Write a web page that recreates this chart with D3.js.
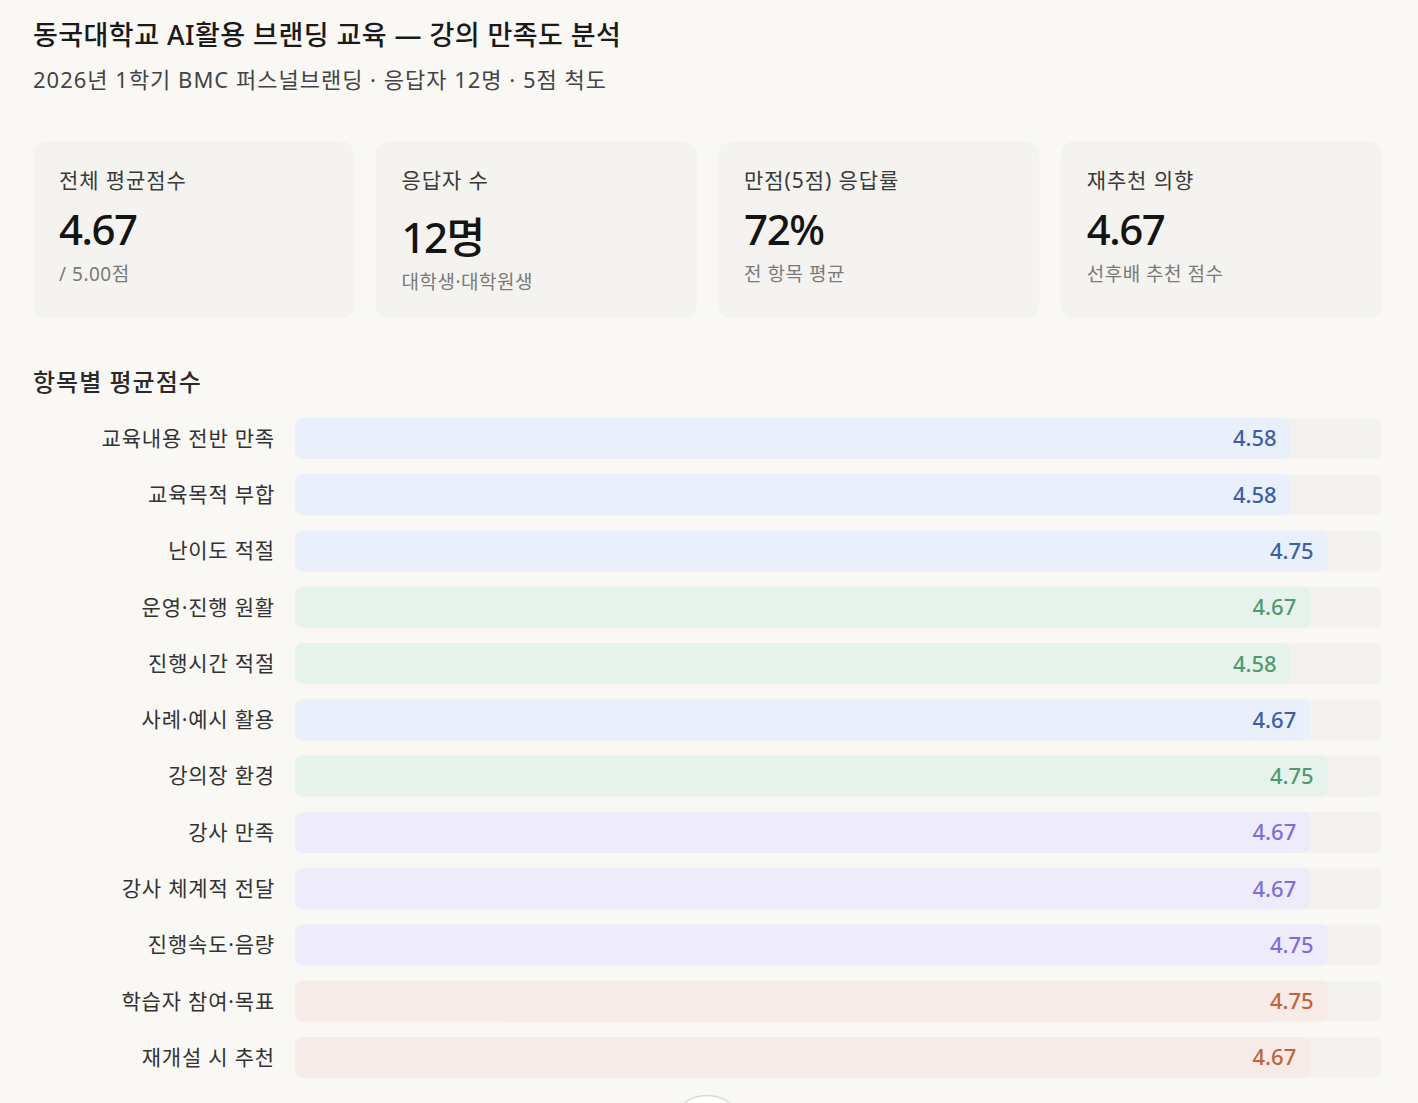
<!DOCTYPE html>
<html>
<head>
<meta charset="utf-8">
<script src="https://cdn.jsdelivr.net/npm/d3@7"></script>
<style>
  html, body { margin: 0; padding: 0; background: #f9f8f5; }
  svg { display: block; }
  text { font-family: "Noto Sans", "Noto Sans CJK KR", sans-serif; }
</style>
</head>
<body>
<svg id="chart" width="1418" height="1103"></svg>
<script>
const titleText = "동국대학교 AI활용 브랜딩 교육 — 강의 만족도 분석";
const subtitleText = "2026년 1학기 BMC 퍼스널브랜딩 · 응답자 12명 · 5점 척도";
const sectionText = "항목별 평균점수";

const cardLabels = ["전체 평균점수", "응답자 수", "만점(5점) 응답률", "재추천 의향"];
const cardValues = ["4.67", "12명", "72%", "4.67"];
const cardNotes = ["/ 5.00점", "대학생·대학원생", "전 항목 평균", "선후배 추천 점수"];

const categories = ["교육내용 전반 만족", "교육목적 부합", "난이도 적절", "운영·진행 원활", "진행시간 적절",
  "사례·예시 활용", "강의장 환경", "강사 만족", "강사 체계적 전달", "진행속도·음량", "학습자 참여·목표", "재개설 시 추천"];
const values = [4.58, 4.58, 4.75, 4.67, 4.58, 4.67, 4.75, 4.67, 4.67, 4.75, 4.75, 4.67];
const groups = ["content", "content", "content", "ops", "ops", "content", "ops", "lecturer", "lecturer", "lecturer", "outcome", "outcome"];
const scaleMax = 5;

const groupFill = { content: "#e9f0fb", ops: "#e6f3ec", lecturer: "#eeecfb", outcome: "#f6ebe6" };
const groupText = { content: "#3d5fa6", ops: "#4f9a6f", lecturer: "#7c70d8", outcome: "#c4623b" };

const svg = d3.select("#chart");

svg.append("text").attr("x", 33).attr("y", 45)
  .attr("font-size", 27).attr("font-weight", 500).attr("letter-spacing", 0.45)
  .attr("fill", "#1a1a1a").text(titleText);
svg.append("text").attr("x", 33).attr("y", 88)
  .attr("font-size", 22).attr("font-weight", 400).attr("letter-spacing", 1.0)
  .attr("fill", "#444").text(subtitleText);

// Cards
const cardX = d3.scaleBand().domain(d3.range(cardLabels.length)).range([33, 1382]).paddingInner(0.062);
const cardOffset = [0, 8, 0, 0];
const cards = svg.append("g").selectAll("g").data(cardLabels).join("g")
  .attr("transform", (d, i) => `translate(${cardX(i)},141)`);
cards.append("rect").attr("width", cardX.bandwidth()).attr("height", 178)
  .attr("rx", 14).attr("fill", "#f4f3ef");
cards.append("text").attr("x", 26).attr("y", 47)
  .attr("font-size", 21).attr("letter-spacing", 0.9).attr("fill", "#3a3a3a").text(d => d);
cards.append("text").attr("x", 26).attr("y", (d, i) => 104 + cardOffset[i])
  .attr("font-size", 42).attr("font-weight", 500).attr("letter-spacing", -1.5)
  .attr("fill", "#141414").text((d, i) => cardValues[i]);
cards.append("text").attr("x", 26).attr("y", (d, i) => 140 + cardOffset[i])
  .attr("font-size", 19).attr("letter-spacing", 0.5).attr("fill", "#7a7a7a").text((d, i) => cardNotes[i]);

// Section
svg.append("text").attr("x", 33).attr("y", 391)
  .attr("font-size", 24).attr("font-weight", 500).attr("letter-spacing", 1.0)
  .attr("fill", "#2a2a2a").text(sectionText);

const x = d3.scaleLinear().domain([0, scaleMax]).range([295, 1382]);
const y = d3.scaleBand().domain(categories).range([418, 1078]).paddingInner(0.271).paddingOuter(0);

const rows = svg.append("g").selectAll("g").data(categories).join("g")
  .attr("transform", d => `translate(0,${y(d)})`);
rows.append("rect").attr("x", x(0)).attr("width", x(scaleMax) - x(0))
  .attr("height", y.bandwidth()).attr("rx", 8).attr("fill", "#f3f2ee");
rows.append("rect").attr("x", x(0)).attr("width", (d, i) => x(values[i]) - x(0))
  .attr("height", y.bandwidth()).attr("rx", 8).attr("fill", (d, i) => groupFill[groups[i]]);
rows.append("text").attr("x", 275).attr("y", y.bandwidth() / 2).attr("dy", "0.35em")
  .attr("text-anchor", "end").attr("font-size", 21).attr("letter-spacing", 0.8)
  .attr("fill", "#333").text(d => d);
rows.append("text").attr("x", (d, i) => x(values[i]) - 14).attr("y", y.bandwidth() / 2).attr("dy", "0.36em")
  .attr("text-anchor", "end").attr("font-size", 22).attr("font-weight", 500)
  .attr("fill", (d, i) => groupText[groups[i]]).text((d, i) => values[i].toFixed(2));

// partially visible round button at bottom
svg.append("circle").attr("cx", 707).attr("cy", 1134).attr("r", 38.5)
  .attr("fill", "#ffffff").attr("stroke", "#dddbd6").attr("stroke-width", 1.5);
</script>
</body>
</html>
